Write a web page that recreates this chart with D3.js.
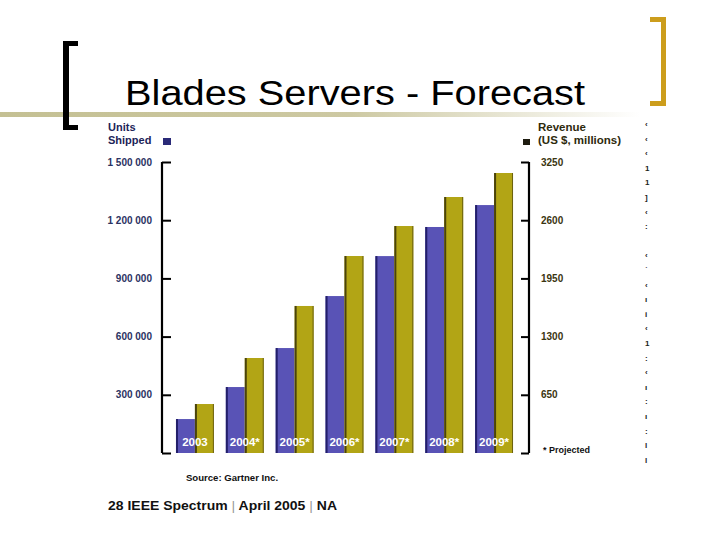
<!DOCTYPE html>
<html><head><meta charset="utf-8">
<script src="https://cdn.jsdelivr.net/npm/d3@7"></script>
<style>html,body{margin:0;padding:0;background:#fff;}svg{display:block;}</style>
</head><body>
<script>
const years = ["2003","2004*","2005*","2006*","2007*","2008*","2009*"];
const unitsShipped = [175000, 340000, 541000, 809000, 1015000, 1165000, 1278000];
const revenue = [547, 1061, 1642, 2200, 2535, 2859, 3127];
const leftTicks = [0, 300000, 600000, 900000, 1200000, 1500000];
const leftTickLabels = ["", "300 000", "600 000", "900 000", "1 200 000", "1 500 000"];
const rightTicks = [0, 650, 1300, 1950, 2600, 3250];
const rightTickLabels = ["", "650", "1300", "1950", "2600", "3250"];
const fragments = ["‹","‹","‹","1","1","]","‹",":","","‹","˙","‹","ı","i","‹","1",":","‹","ı",":","ı",":","l","l"];

const W = 720, H = 540;
const svg = d3.select("body").append("svg").attr("width", W).attr("height", H);

// slide decorations
const defs = svg.append("defs");
const grad = defs.append("linearGradient").attr("id","rule").attr("x1","0").attr("x2","1");
grad.append("stop").attr("offset","0").attr("stop-color","#c4c093");
grad.append("stop").attr("offset","0.55").attr("stop-color","#cdc9a3");
grad.append("stop").attr("offset","1").attr("stop-color","#ffffff");
svg.append("rect").attr("x",0).attr("y",112).attr("width",640).attr("height",5).attr("fill","url(#rule)");

// left bracket (black)
svg.append("path").attr("d","M78,41 H63 V130 H78 V125 H69 V46 H78 Z").attr("fill","#000");
// right bracket (gold)
svg.append("path").attr("d","M650,17 H666 V106 H650 V101 H661 V22 H650 Z").attr("fill","#cc9d1c");

svg.append("text").attr("x",125).attr("y",105)
  .attr("font-family","Liberation Sans, Arial, sans-serif").attr("font-size",35)
  .attr("fill","#000").attr("textLength",460).attr("lengthAdjust","spacingAndGlyphs")
  .text("Blades Servers - Forecast");

// scales
const y0 = 453, y1 = 162;
const yL = d3.scaleLinear().domain([0,1500000]).range([y0,y1]);
const yR = d3.scaleLinear().domain([0,3250]).range([y0,y1]);
const x = d3.scaleBand().domain(years).range([168.5,520.5]).paddingInner(0.24).paddingOuter(0.15);
const bw = x.bandwidth()/2;

const font = "Liberation Sans, Arial, sans-serif";

// bars
const g = svg.append("g");
years.forEach((yr,i)=>{
  const xb = x(yr);
  const hb = yL(unitsShipped[i]);
  g.append("rect").attr("x",xb).attr("y",hb).attr("width",bw).attr("height",y0-hb).attr("fill","#5953b6");
  g.append("rect").attr("x",xb).attr("y",hb).attr("width",2).attr("height",y0-hb).attr("fill","#231f6a");
  const hy = yR(revenue[i]);
  g.append("rect").attr("x",xb+bw).attr("y",hy).attr("width",bw).attr("height",y0-hy).attr("fill","#b2a515");
  g.append("rect").attr("x",xb+bw).attr("y",hy).attr("width",2).attr("height",y0-hy).attr("fill","#4a430c");
  g.append("rect").attr("x",xb+bw*2-1).attr("y",hy).attr("width",1).attr("height",y0-hy).attr("fill","#6b6110");
  g.append("text").attr("x",xb+bw).attr("y",446).attr("text-anchor","middle")
    .attr("font-family",font).attr("font-weight","bold").attr("font-size",11.5)
    .attr("fill","#fff").text(yr);
});

// left axis
const axL = d3.axisRight(yL).tickValues(leftTicks).tickSize(9).tickFormat("");
const gl = svg.append("g").attr("transform","translate(162,0)").call(axL);
gl.select(".domain").attr("stroke","#000").attr("stroke-width",2.2).attr("d",`M0,${y1}V${y0}`);
gl.selectAll(".tick line").attr("stroke","#000").attr("stroke-width",2);
svg.append("g").selectAll("text").data(leftTicks).join("text")
  .attr("x",152).attr("y",d=>yL(d)+3.5).attr("text-anchor","end")
  .attr("font-family",font).attr("font-weight","bold").attr("font-size",10).attr("fill","#2b3262")
  .text((d,i)=>leftTickLabels[i]);

// right axis
const axR = d3.axisLeft(yR).tickValues(rightTicks).tickSize(8).tickFormat("");
const gr = svg.append("g").attr("transform","translate(529,0)").call(axR);
gr.select(".domain").attr("stroke","#000").attr("stroke-width",2.2).attr("d",`M0,${y1}V${y0}`);
gr.selectAll(".tick line").attr("stroke","#000").attr("stroke-width",2);
svg.append("g").selectAll("text").data(rightTicks).join("text")
  .attr("x",541).attr("y",d=>yR(d)+3.5)
  .attr("font-family",font).attr("font-weight","bold").attr("font-size",10).attr("fill","#3b3510")
  .text((d,i)=>rightTickLabels[i]);

// axis titles and legend squares
svg.append("text").attr("x",108).attr("y",131).attr("font-family",font).attr("font-weight","bold")
  .attr("font-size",11).attr("fill","#1c2458").text("Units");
svg.append("text").attr("x",108).attr("y",144).attr("font-family",font).attr("font-weight","bold")
  .attr("font-size",11).attr("fill","#1c2458").text("Shipped");
svg.append("rect").attr("x",163).attr("y",138).attr("width",8).attr("height",7).attr("fill","#2a2a78");

svg.append("text").attr("x",538).attr("y",131).attr("font-family",font).attr("font-weight","bold")
  .attr("font-size",11.5).attr("fill","#2e2a0c").text("Revenue");
svg.append("text").attr("x",538).attr("y",144).attr("font-family",font).attr("font-weight","bold")
  .attr("font-size",11.5).attr("fill","#2e2a0c").text("(US $, millions)");
svg.append("rect").attr("x",523).attr("y",139).attr("width",7).attr("height",6).attr("fill","#1e1c10");

// notes
svg.append("text").attr("x",543).attr("y",453).attr("font-family",font).attr("font-weight","bold")
  .attr("font-size",9).attr("fill","#111").text("* Projected");
svg.append("text").attr("x",232).attr("y",481).attr("text-anchor","middle").attr("font-family",font)
  .attr("font-weight","bold").attr("font-size",9.6).attr("fill","#111").text("Source: Gartner Inc.");

const foot = svg.append("text").attr("x",108).attr("y",510).attr("font-family",font)
  .attr("font-size",13).attr("fill","#111").attr("textLength",229).attr("lengthAdjust","spacingAndGlyphs");
foot.append("tspan").attr("font-weight","900").text("28 ");
foot.append("tspan").attr("font-weight","bold").text(" IEEE Spectrum ");
foot.append("tspan").attr("fill","#999").text("|");
foot.append("tspan").attr("font-weight","bold").text(" April 2005 ");
foot.append("tspan").attr("fill","#999").text("|");
foot.append("tspan").attr("font-weight","bold").text(" NA");

// right edge page fragments
svg.append("g").selectAll("text").data(fragments).join("text")
  .attr("x",645).attr("y",(d,i)=>127+i*14.6).attr("font-family",font).attr("font-weight","bold")
  .attr("font-size",8).attr("fill","#222").text(d=>d);
</script>
</body></html>
